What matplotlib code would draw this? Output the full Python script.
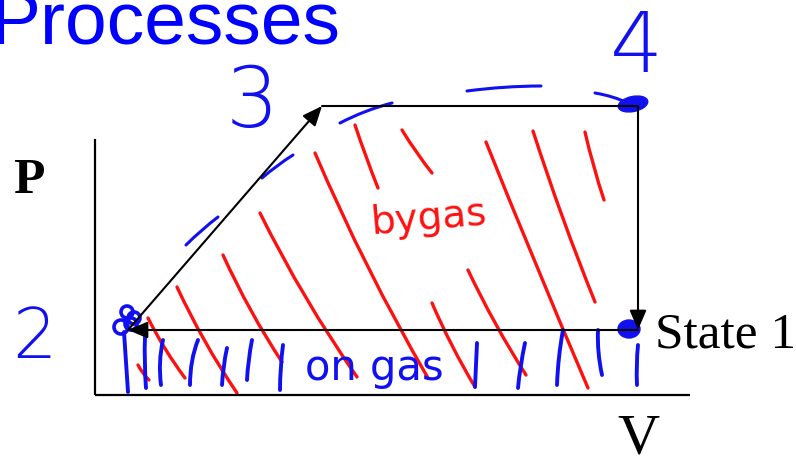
import numpy as np
import matplotlib
matplotlib.use('Agg')
import matplotlib.pyplot as plt
from matplotlib.path import Path
from matplotlib.patches import PathPatch, Ellipse, Circle

# sketch drawn in a pixel-like frame: x grows right, y grows down
W, H = 796, 466

# PV axes
axis_origin = (95, 395)
axis_top = 139
axis_right = 690

# states of the cycle (V, P) in frame units
state_v = [638, 128, 322, 638]
state_p = [330, 330, 106, 106]
# processes: (from state, to state, arrow head drawn)
processes = [(0, 1, True), (1, 2, True), (2, 3, False), (3, 0, True)]

# red "work by gas" hatch strokes: start, bend, end
red_strokes = [
    [(138, 365), (142, 373), (149, 380)],
    [(148, 318), (164, 350), (185, 378)],
    [(177, 287), (203, 343), (237, 393)],
    [(223, 255), (249, 312), (282, 362)],
    [(260, 213), (303, 300), (357, 377)],
    [(315, 153), (365, 270), (428, 378)],
    [(355, 125), (366, 158), (378, 188)],
    [(402, 130), (416, 153), (432, 173)],
    [(432, 303), (451, 347), (475, 387)],
    [(468, 270), (494, 325), (526, 375)],
    [(486, 142), (534, 262), (588, 388)],
    [(533, 131), (561, 218), (595, 302)],
    [(585, 132), (593, 167), (604, 200)],
]

# blue "work on gas" strokes below the 1->2 line
blue_strokes = [
    [(124, 332), (126, 362), (128, 392)],
    [(145, 337), (144, 362), (146, 388)],
    [(163, 340), (158, 362), (161, 385)],
    [(198, 340), (190, 360), (190, 385)],
    [(227, 348), (223, 366), (222, 385)],
    [(252, 340), (248, 360), (247, 380)],
    [(283, 345), (280, 368), (280, 390)],
    [(477, 343), (476, 365), (475, 387)],
    [(525, 343), (520, 366), (518, 388)],
    [(563, 330), (558, 357), (557, 385)],
    [(598, 330), (597, 352), (602, 375)],
    [(638, 345), (636, 365), (637, 385)],
]

# blue dashes traced along the 2->3->4 path
blue_dashes = [
    [(186, 245), (201, 230), (218, 217)],
    [(262, 178), (277, 165), (293, 155)],
    [(340, 123), (365, 110), (392, 103)],
    [(467, 91), (505, 86), (541, 86)],
    [(595, 93), (613, 96), (628, 103)],
]

BLUE = '#1010f0'
RED = '#ff1010'


def stroke(ax, pts, color, lw):
    verts = list(pts)
    codes = [Path.MOVETO, Path.CURVE3, Path.CURVE3]
    ax.add_patch(PathPatch(Path(verts, codes), fc='none', ec=color, lw=lw,
                           capstyle='round'))


fig = plt.figure(figsize=(W / 100, H / 100), dpi=100)
ax = fig.add_axes([0, 0, 1, 1])
ax.set_xlim(0, W)
ax.set_ylim(H, 0)
ax.axis('off')

# title, cropped at the top edge
ax.text(-9, 43, 'Processes', color='#0000ff', fontsize=54,
        family='Liberation Sans', va='baseline', ha='left')

# axes of the PV plane
ax.plot([axis_origin[0], axis_origin[0]], [axis_top, axis_origin[1]],
        color='k', lw=1.6, solid_capstyle='butt')
ax.plot([axis_origin[0], axis_right], [axis_origin[1], axis_origin[1]],
        color='k', lw=1.6, solid_capstyle='butt')
ax.text(13, 193, 'P', fontsize=37, family='Liberation Serif',
        fontweight='bold', va='baseline')
ax.text(617, 465, 'V', fontsize=42, family='Liberation Serif', va='bottom')
ax.text(655, 347, 'State 1', fontsize=37, family='Liberation Serif',
        va='baseline')

# cycle processes
for a, b, head in processes:
    style = '-|>,head_length=0.75,head_width=0.32' if head else '-'
    ax.annotate('', xy=(state_v[b], state_p[b]),
                xytext=(state_v[a], state_p[a]),
                arrowprops=dict(arrowstyle=style, color='k', lw=1.5,
                                mutation_scale=16, shrinkA=0, shrinkB=0))

# hand-drawn hatching
for s in red_strokes:
    stroke(ax, s, RED, 2.4)
for s in blue_strokes:
    stroke(ax, s, BLUE, 2.8)
for s in blue_dashes:
    stroke(ax, s, BLUE, 2.2)

# ink blobs on the states
ax.add_patch(Ellipse((633, 104), 30, 15, angle=-12, color=BLUE))
ax.add_patch(Ellipse((629, 329), 22, 18, angle=0, color=BLUE))
for cx, cy, r in [(127, 312, 6), (134, 318, 6), (131, 324, 6), (121, 327, 7)]:
    ax.add_patch(Circle((cx, cy), r, fc='none', ec=BLUE, lw=2.6))

# handwritten labels
ax.text(12, 358, '2', color=BLUE, fontsize=50, family='DejaVu Sans',
        fontweight='light', va='baseline')
ax.text(226, 127, '3', color=BLUE, fontsize=60, family='DejaVu Sans',
        fontweight='light', va='baseline')
ax.text(610, 72, '4', color=BLUE, fontsize=60, family='DejaVu Sans',
        fontweight='light', va='baseline')
ax.text(372, 234, 'bygas', color=RED, fontsize=28, family='DejaVu Sans',
        rotation=5, rotation_mode='anchor', va='baseline')
ax.text(305, 380, 'on gas', color=BLUE, fontsize=30, family='DejaVu Sans',
        va='baseline')

fig.savefig('out.png', dpi=100)
